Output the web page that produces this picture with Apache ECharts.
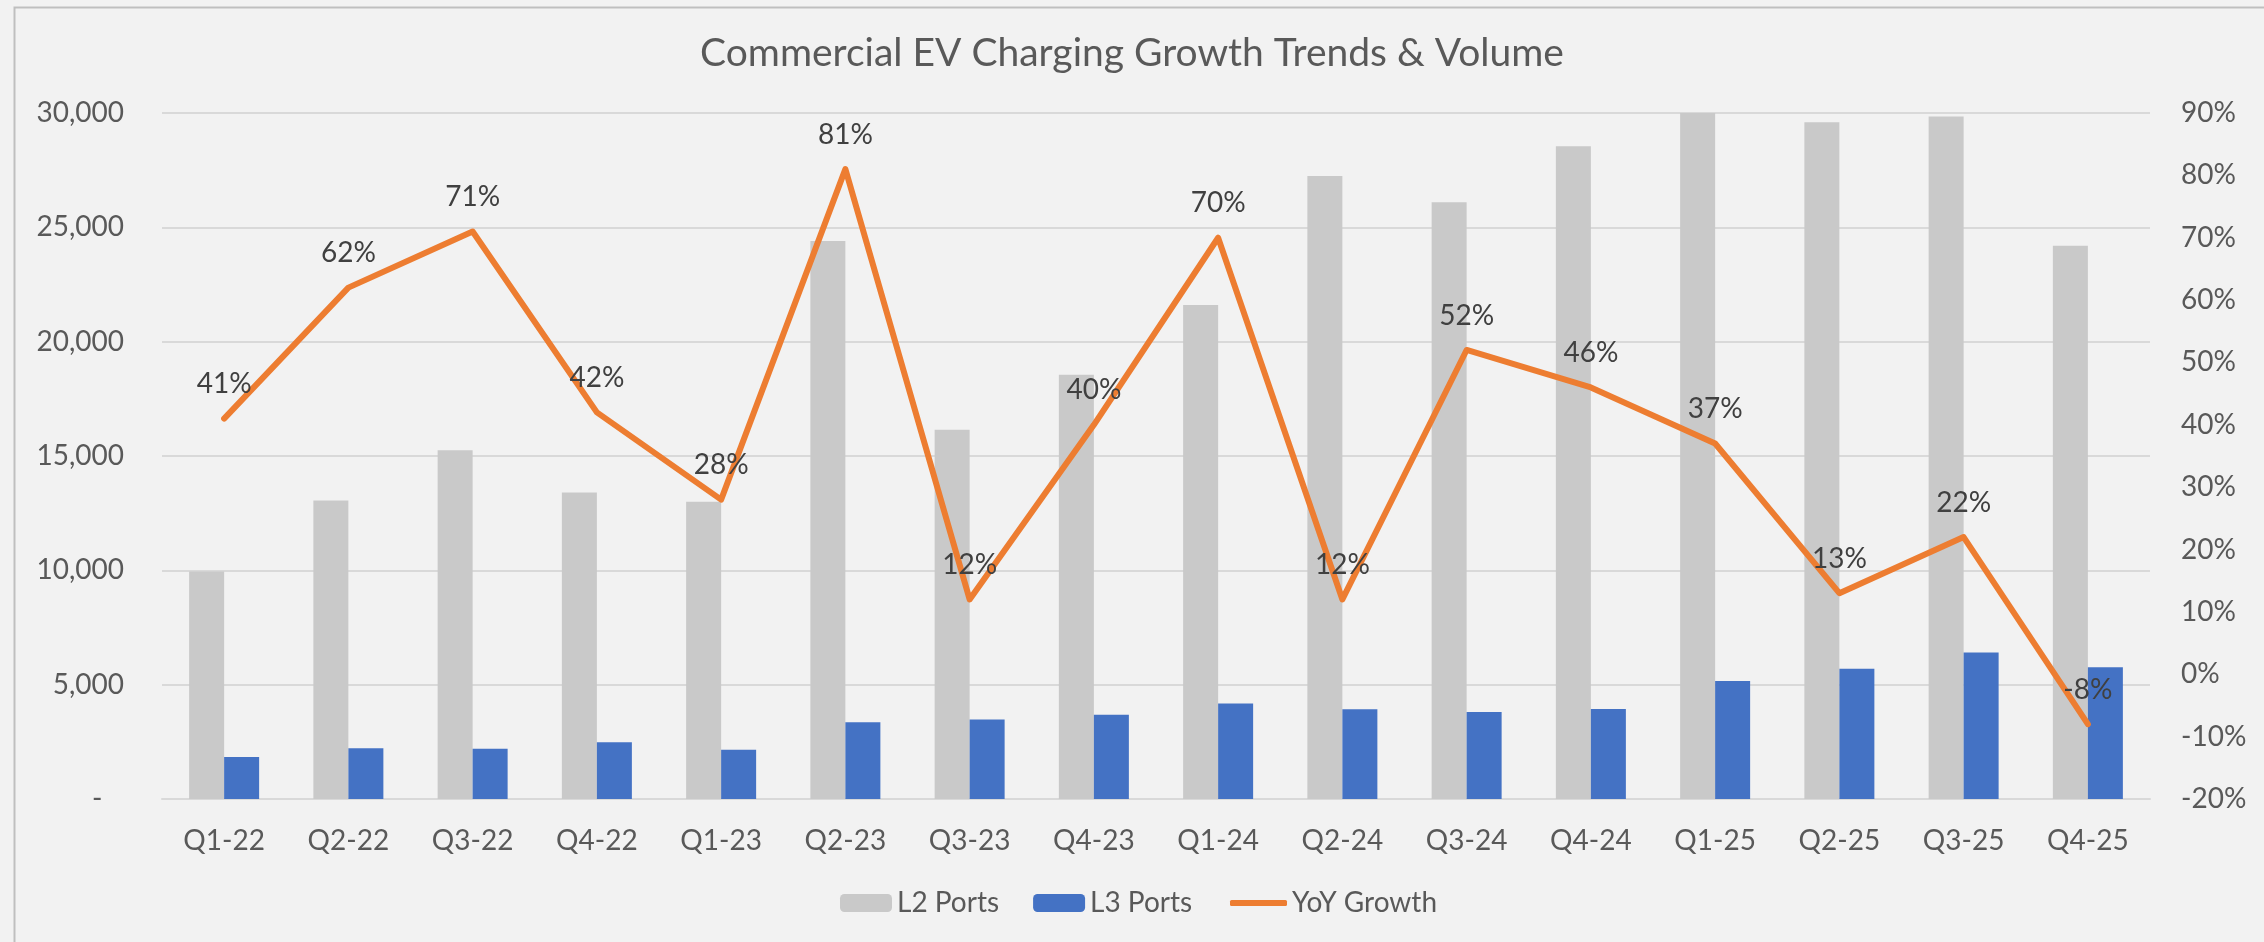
<!DOCTYPE html>
<html>
<head>
<meta charset="utf-8">
<title>Commercial EV Charging Growth Trends & Volume</title>
<script src="https://cdn.jsdelivr.net/npm/echarts@6.0.0/dist/echarts.min.js"></script>
<style>
  html, body { margin: 0; padding: 0; background: #f2f2f2; }
  #chart { width: 2264px; height: 942px; }
</style>
</head>
<body>
<div id="chart"></div>
<script>
// quarters on the x axis
const quarters = ["Q1-22", "Q2-22", "Q3-22", "Q4-22", "Q1-23", "Q2-23", "Q3-23", "Q4-23",
  "Q1-24", "Q2-24", "Q3-24", "Q4-24", "Q1-25", "Q2-25", "Q3-25", "Q4-25"];
// port counts
const l2Ports = [9950, 13050, 15250, 13400, 13000, 24400, 16150, 18550,
  21600, 27250, 26100, 28550, 30000, 29600, 29850, 24200];
const l3Ports = [1840, 2220, 2200, 2480, 2150, 3360, 3480, 3680,
  4180, 3930, 3800, 3940, 5160, 5700, 6410, 5760];
// year over year growth, percent
const yoyGrowth = [41, 62, 71, 42, 28, 81, 12, 40, 70, 12, 52, 46, 37, 13, 22, -8];

const FONT = "Lato";
const GREY_TEXT = "#595959";
const legendText = { fontFamily: FONT, fontSize: 28, color: GREY_TEXT };

const chart = echarts.init(document.getElementById("chart"));

const option = {
  backgroundColor: "#f2f2f2",
  textStyle: { fontFamily: FONT },
  title: {
    text: "Commercial EV Charging Growth Trends & Volume",
    left: "center",
    top: 29,
    textStyle: { fontFamily: FONT, fontSize: 39, fontWeight: "normal", color: GREY_TEXT }
  },
  graphic: [{
    type: "rect",
    left: 12, top: 5,
    shape: { width: 2251, height: 945 },
    style: { fill: "none", stroke: "#bfbfbf", lineWidth: 2 },
    silent: true
  }],
  // two legends so the line key can be a thin stroke
  legend: [{
    bottom: 20,
    left: 835,
    itemWidth: 52,
    itemHeight: 18,
    itemGap: 34,
    textStyle: legendText,
    data: ["L2 Ports", "L3 Ports"]
  }, {
    bottom: 20,
    left: 1225,
    itemWidth: 57,
    itemHeight: 6,
    icon: "roundRect",
    textStyle: legendText,
    data: ["YoY Growth"]
  }],
  grid: { left: 162, right: 114, top: 113, bottom: 143 },
  xAxis: {
    type: "category",
    data: quarters,
    axisTick: { show: false },
    axisLine: { lineStyle: { color: "#d9d9d9", width: 2 } },
    axisLabel: { fontFamily: FONT, fontSize: 28, color: GREY_TEXT, margin: 28 }
  },
  yAxis: [{
    type: "value",
    min: 0, max: 30000, interval: 5000,
    axisLine: { show: false },
    axisTick: { show: false },
    splitLine: { lineStyle: { color: "#d9d9d9", width: 2 } },
    axisLabel: {
      fontFamily: FONT, fontSize: 28, color: GREY_TEXT, margin: 38,
      formatter: v => v === 0 ? "-   " : v.toLocaleString("en-US")
    }
  }, {
    type: "value",
    min: -20, max: 90, interval: 10,
    axisLine: { show: false },
    axisTick: { show: false },
    splitLine: { show: false },
    axisLabel: { fontFamily: FONT, fontSize: 28, color: GREY_TEXT, margin: 31, formatter: "{value}%" }
  }],
  series: [{
    name: "L2 Ports",
    type: "bar",
    data: l2Ports,
    barWidth: 35,
    barGap: "0%",
    itemStyle: { color: "#c9c9c9" }
  }, {
    name: "L3 Ports",
    type: "bar",
    data: l3Ports,
    barWidth: 35,
    barGap: "0%",
    itemStyle: { color: "#4472c4" }
  }, {
    name: "YoY Growth",
    type: "line",
    yAxisIndex: 1,
    data: yoyGrowth,
    symbol: "circle",
    symbolSize: 1,
    itemStyle: { color: "#ed7d31" },
    lineStyle: { color: "#ed7d31", width: 6, cap: "round", join: "round" },
    label: {
      show: true,
      position: "top",
      distance: 20,
      formatter: "{c}%",
      fontFamily: FONT,
      fontSize: 28,
      color: "#404040"
    },
    z: 5
  }]
};

chart.setOption(option);
</script>
</body>
</html>
